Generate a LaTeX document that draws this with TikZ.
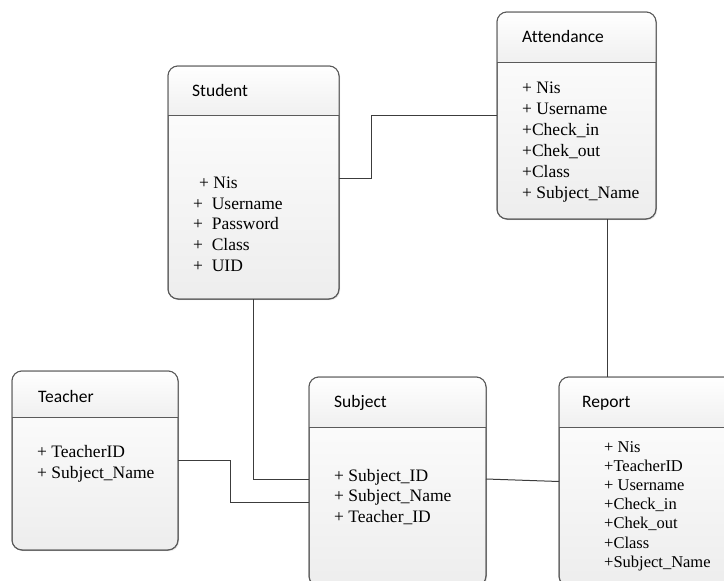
\documentclass[tikz,border=0pt]{standalone}
\usepackage{fontspec}
\setmainfont{Liberation Serif}
\newfontfamily\headfont[Ligatures=NoCommon]{Carlito}
\usetikzlibrary{shadows}

\definecolor{boxline}{HTML}{5A5A5A}
\definecolor{linkline}{HTML}{3C3C3C}

\tikzset{
  entity/.style={draw=boxline, line width=1pt, rounded corners=10pt,
    top color=white, bottom color=black!7, inner sep=0pt, outer sep=0pt,
    anchor=north west,
    drop shadow={shadow xshift=1.2pt, shadow yshift=-1.2pt, opacity=0.18}},
  headband/.style={top color=white, bottom color=black!6},
  divider/.style={draw=boxline, line width=1pt},
  title/.style={font=\headfont\fontsize{17.5}{21}\selectfont, anchor=base west, inner sep=0pt},
  attr/.style={font=\fontsize{17.5}{21}\selectfont, anchor=base west, inner sep=0pt},
  smallattr/.style={font=\fontsize{16.5}{19}\selectfont, anchor=base west, inner sep=0pt},
  link/.style={draw=linkline, line width=1pt},
}

% class box: name, x, y, width, height, header height
\newcommand\umlentity[6]{%
  \node[entity, minimum width=#4pt, minimum height=#5pt] (#1) at (#2,#3) {};
  \begin{scope}
    \clip[rounded corners=10pt] (#1.north west) rectangle (#1.south east);
    \shade[headband] (#1.north west) rectangle ([yshift=-#6pt]#1.north east);
  \end{scope}
  \draw[divider] ([yshift=-#6pt]#1.north west) -- ([yshift=-#6pt]#1.north east);
  \draw[boxline, line width=1pt, rounded corners=10pt] (#1.north west) rectangle (#1.south east);
}

\begin{document}
\begin{tikzpicture}[x=1pt, y=-1pt]
  \useasboundingbox (0,0) rectangle (724,581);
  \clip (0,0) rectangle (724,581);

  % class boxes
  \umlentity{student}{168}{66}{171}{233}{49}
  \umlentity{attendance}{497}{12}{159}{207}{50}
  \umlentity{teacher}{12}{371}{166}{179}{46}
  \umlentity{subject}{309}{377}{177}{209}{50}
  \umlentity{report}{559}{377}{180}{209}{50}

  % titles
  \node[title] (student-t) at (192,96) {Student};
  \node[title] (attendance-t) at (522,42) {Attendance};
  \node[title] (teacher-t) at (38,402) {Teacher};
  \node[title] (subject-t) at (334,407) {Subject};
  \node[title] (report-t) at (582,407) {Report};

  % Student attributes
  \node[attr] (student-a1) at (199,188) {+ Nis};
  \node[attr] (student-a2) at (193,209) {+~~Username};
  \node[attr] (student-a3) at (193,229.5) {+~~Password};
  \node[attr] (student-a4) at (193,250) {+~~Class};
  \node[attr] (student-a5) at (193,271) {+~~UID};

  % Attendance attributes
  \node[attr] (attendance-a1) at (522,93) {+ Nis};
  \node[attr] (attendance-a2) at (522,114) {+ Username};
  \node[attr] (attendance-a3) at (522,135) {+Check\_in};
  \node[attr] (attendance-a4) at (522,156) {+Chek\_out};
  \node[attr] (attendance-a5) at (522,177) {+Class};
  \node[attr] (attendance-a6) at (522,198) {+ Subject\_Name};

  % Teacher attributes
  \node[attr] (teacher-a1) at (37,457) {+ TeacherID};
  \node[attr] (teacher-a2) at (37,478) {+ Subject\_Name};

  % Subject attributes
  \node[attr] (subject-a1) at (334,481) {+ Subject\_ID};
  \node[attr] (subject-a2) at (334,501.5) {+ Subject\_Name};
  \node[attr] (subject-a3) at (334,522) {+ Teacher\_ID};

  % Report attributes
  \node[smallattr] (report-a1) at (604,452) {+ Nis};
  \node[smallattr] (report-a2) at (604,471) {+TeacherID};
  \node[smallattr] (report-a3) at (604,490) {+ Username};
  \node[smallattr] (report-a4) at (604,509.5) {+Check\_in};
  \node[smallattr] (report-a5) at (604,528.5) {+Chek\_out};
  \node[smallattr] (report-a6) at (604,548) {+Class};
  \node[smallattr] (report-a7) at (604,567) {+Subject\_Name};

  % associations
  \draw[link] ([yshift=4.5pt]student.east) -- ++(32,0) |- (attendance.west);
  \draw[link] ([xshift=30.5pt]attendance.south) -- ++(0,158);
  \draw[link] (student.south) |- ([yshift=2.5pt]subject.west);
  \draw[link] (teacher.east) -- ++(52,0) |- ([yshift=-20.5pt]subject.west);
  \draw[link] ([yshift=2.5pt]subject.east) -- (report.west);
\end{tikzpicture}
\end{document}
